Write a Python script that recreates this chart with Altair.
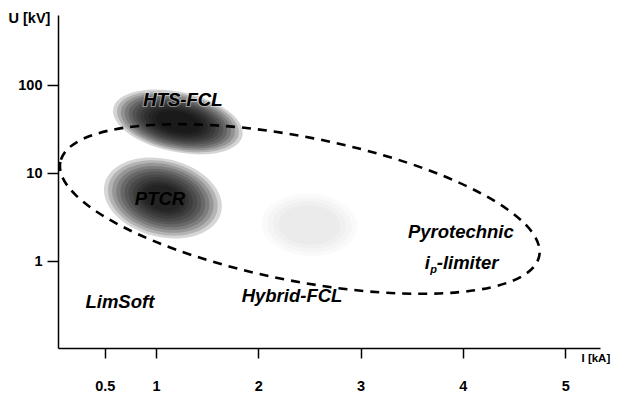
import altair as alt
import pandas as pd

# ---------------- data ----------------
x_tick_values = [0.5, 1, 2, 3, 4, 5]
y_tick_values = [1, 10, 100]

blob_names = ["HTS-FCL", "PTCR", "Hybrid-FCL"]
blob_I = [1.215, 1.068, 2.50]
blob_U = [38.5, 5.27, 2.60]

label_texts = ["HTS-FCL", "PTCR", "LimSoft", "Hybrid-FCL", "Pyrotechnic"]
label_I = [1.264, 1.04, 0.648, 2.33, 3.98]
label_U = [68.4, 5.13, 0.347, 0.405, 2.16]

sub_label_I = [3.627]
sub_label_U = [0.96]

envelope_I = [2.406]
envelope_U = [3.95]

# ---------------- styling (not data) ----------------
FONT = "Liberation Sans"
blob_style = {
    "HTS-FCL": dict(a=66, b=30, tilt=12, color="#000000", op=0.17,
                    levels=[1.0, 0.94, 0.88, 0.82, 0.76, 0.70, 0.64, 0.58,
                            0.52, 0.46, 0.40, 0.34]),
    "PTCR": dict(a=60, b=39, tilt=14, color="#000000", op=0.16,
                 levels=[1.0, 0.93, 0.86, 0.79, 0.72, 0.65, 0.58, 0.51,
                         0.44, 0.38, 0.32]),
    "Hybrid-FCL": dict(a=48, b=31, tilt=3, color="#888888", op=0.045,
                       levels=[1.0, 0.88, 0.76, 0.64]),
}


def ellipse_path(ratio):
    return f"M -1 0 A 1 {ratio:.3f} 0 1 0 1 0 A 1 {ratio:.3f} 0 1 0 -1 0 Z"


blob_rows = []
for name, I, U in zip(blob_names, blob_I, blob_U):
    st = blob_style[name]
    for s in st["levels"]:
        blob_rows.append(dict(I=I, U=U, shape=ellipse_path(st["b"] / st["a"]),
                              size=(2 * st["a"] * s) ** 2, opacity=st["op"],
                              angle=st["tilt"], color=st["color"]))
blob_df = pd.DataFrame(blob_rows)

label_df = pd.DataFrame({"I": label_I, "U": label_U, "text": label_texts})
sub_df = pd.DataFrame({"I": sub_label_I, "U": sub_label_U})
env_df = pd.DataFrame({"I": envelope_I, "U": envelope_U})

x_enc = alt.X(
    "I:Q",
    scale=alt.Scale(domain=[0.043, 5.34], nice=False, zero=False),
    axis=alt.Axis(
        values=x_tick_values, format="~g", grid=False,
        title="I [kA]", titleX=523, titleY=10, titleAlign="left",
        titleBaseline="middle", titleFont=FONT, titleFontSize=11.5,
        titleFontWeight="bold", titleColor="black",
        tickSize=10, tickWidth=1.5, tickColor="black",
        domainColor="black", domainWidth=1.5,
        labelFont=FONT, labelFontSize=14.5, labelFontWeight="bold",
        labelColor="black", labelPadding=21,
    ),
)
y_enc = alt.Y(
    "U:Q",
    scale=alt.Scale(type="log", domain=[0.104, 632], nice=False),
    axis=alt.Axis(
        values=y_tick_values, format="~g", grid=False,
        title="U [kV]", titleAngle=0, titleX=-50, titleY=3,
        titleAlign="left", titleBaseline="middle", titleFont=FONT,
        titleFontSize=14.5, titleFontWeight="bold", titleColor="black",
        tickSize=11, tickWidth=1.5, tickColor="black",
        domainColor="black", domainWidth=1.5,
        labelFont=FONT, labelFontSize=14.5, labelFontWeight="bold",
        labelColor="black", labelPadding=5,
    ),
)

blobs = alt.Chart(blob_df).mark_point(filled=True, strokeWidth=0).encode(
    x=x_enc, y=y_enc,
    shape=alt.Shape("shape:N", scale=None),
    size=alt.Size("size:Q", scale=None),
    opacity=alt.Opacity("opacity:Q", scale=None),
    angle=alt.Angle("angle:Q", scale=None),
    color=alt.Color("color:N", scale=None),
)

envelope = alt.Chart(env_df).mark_point(
    shape=ellipse_path(72 / 244), size=(2 * 244) ** 2, angle=11.1,
    filled=False, stroke="black", strokeWidth=2.6, strokeDash=[9, 7],
    opacity=1,
).encode(x=x_enc, y=y_enc)

text_props = dict(font=FONT, fontSize=18.5, fontWeight="bold", fontStyle="italic")

halo = alt.Chart(label_df).transform_filter(
    alt.FieldEqualPredicate(field="text", equal="HTS-FCL")
).mark_text(stroke="white", strokeWidth=2, strokeOpacity=0.45, color="black",
            **text_props).encode(x=x_enc, y=y_enc, text="text:N")

labels = alt.Chart(label_df).mark_text(color="black", **text_props).encode(
    x=x_enc, y=y_enc, text="text:N")

sub_i = alt.Chart(sub_df).mark_text(color="black", align="left", text="i",
                                    **text_props).encode(x=x_enc, y=y_enc)
sub_p = alt.Chart(sub_df).mark_text(color="black", align="left", text="p",
                                    dx=5.5, dy=7, font=FONT, fontSize=11,
                                    fontWeight="bold", fontStyle="italic").encode(x=x_enc, y=y_enc)
sub_rest = alt.Chart(sub_df).mark_text(color="black", align="left", text="-limiter",
                                       dx=12, **text_props).encode(x=x_enc, y=y_enc)

chart = alt.layer(blobs, envelope, halo, labels, sub_i, sub_p, sub_rest).properties(
    width=542, height=333,
    autosize=alt.AutoSizeParams(type="none"),
    padding={"left": 50, "top": 7, "right": 14, "bottom": 46},
    background="white",
).configure_view(stroke=None)

chart.save("out.html", embed_options={"renderer": "svg", "actions": False})
